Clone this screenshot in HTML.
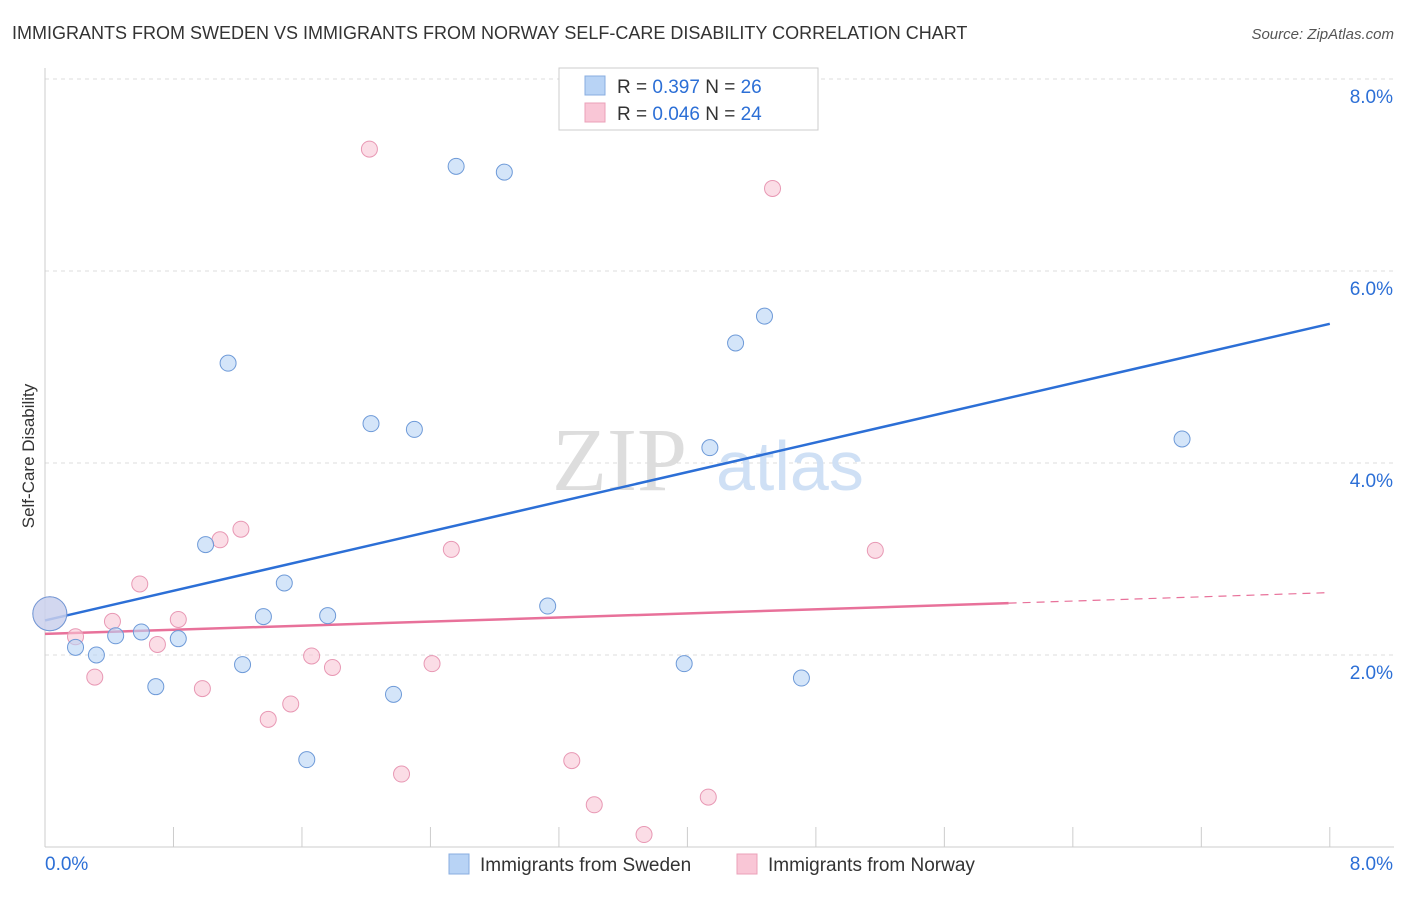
<!DOCTYPE html>
<html><head><meta charset="utf-8"><style>
body{margin:0;background:#fff;font-family:"Liberation Sans",sans-serif;}
</style></head><body>
<svg id="chart" width="1406" height="892" xmlns="http://www.w3.org/2000/svg" font-family="Liberation Sans, sans-serif">
<text x="12" y="39" font-size="18" fill="#333">IMMIGRANTS FROM SWEDEN VS IMMIGRANTS FROM NORWAY SELF-CARE DISABILITY CORRELATION CHART</text>
<text x="1394" y="39" font-size="15" fill="#555" font-style="italic" text-anchor="end">Source: ZipAtlas.com</text>
<text transform="translate(34,456) rotate(-90)" font-size="17" fill="#333" text-anchor="middle">Self-Care Disability</text>
<g id="grid"></g><g id="ticks"></g>
<text x="552" y="490" font-size="90" fill="#ddd" font-family="Liberation Serif, serif">ZIP</text>
<text x="716" y="490" font-size="70" fill="#cfe0f5">atlas</text>
<g id="lines"></g><g id="points"></g>
<g>
<rect x="559" y="68" width="259" height="62" fill="#fff" stroke="#ccc"/>
<rect x="585" y="76" width="20" height="19" fill="#b8d3f5" stroke="#88aee0"/>
<rect x="585" y="103" width="20" height="19" fill="#f9c6d6" stroke="#eba0b8"/>
<text x="617" y="93" font-size="19" fill="#333">R = <tspan fill="#2c6fd6">0.397</tspan>    N = <tspan fill="#2c6fd6">26</tspan></text>
<text x="617" y="120" font-size="19" fill="#333">R = <tspan fill="#2c6fd6">0.046</tspan>    N = <tspan fill="#2c6fd6">24</tspan></text>
</g>
<g>
<rect x="449" y="854" width="20" height="20" fill="#b8d3f5" stroke="#88aee0"/>
<text x="480" y="871" font-size="19" fill="#333">Immigrants from Sweden</text>
<rect x="737" y="854" width="20" height="20" fill="#f9c6d6" stroke="#eba0b8"/>
<text x="768" y="871" font-size="19" fill="#333">Immigrants from Norway</text>
</g>
</svg>
<script>
const yTicks=[2,4,6,8];
const xTickLabels=["0.0%","8.0%"];
const swedenX=[0.03,0.19,0.32,0.44,0.60,0.69,0.83,1.00,1.14,1.23,1.36,1.49,1.63,1.76,2.03,2.17,2.30,2.56,2.86,3.13,3.98,4.14,4.30,4.48,4.71,7.08];
const swedenY=[2.43,2.08,2.00,2.20,2.24,1.67,2.17,3.15,5.04,1.90,2.40,2.75,0.91,2.41,4.41,1.59,4.35,7.09,7.03,2.51,1.91,4.16,5.25,5.53,1.76,4.25];
const norwayX=[0.03,0.19,0.31,0.42,0.59,0.70,0.83,0.98,1.09,1.22,1.39,1.53,1.66,1.79,2.02,2.22,2.41,2.53,3.28,3.42,3.73,4.13,4.53,5.17];
const norwayY=[2.43,2.19,1.77,2.35,2.74,2.11,2.37,1.65,3.20,3.31,1.33,1.49,1.99,1.87,7.27,0.76,1.91,3.10,0.90,0.44,0.13,0.52,6.86,3.09];
const swedenTrend=[2.36,5.45];
const norwayTrend=[2.22,2.54,2.65];
const NS="http://www.w3.org/2000/svg";
const X=v=>45+v*160.6, Y=v=>847-v*96;
function mk(t,a,p){const e=document.createElementNS(NS,t);for(const k in a)e.setAttribute(k,a[k]);document.getElementById(p).appendChild(e);return e;}
yTicks.forEach(t=>{const l=mk('line',{x1:45,x2:1394,y1:Y(t),y2:Y(t),stroke:'#ddd','stroke-dasharray':'4,4'},'grid');


const tx=mk('text',{x:1393,y:Y(t)+24,'font-size':19,fill:'#2c6fd6','text-anchor':'end'},'ticks');tx.textContent=t.toFixed(1)+'%';

});
mk('line',{x1:45,x2:45,y1:68,y2:847,stroke:'#ccc'},'grid');
mk('line',{x1:45,x2:1394,y1:847,y2:847,stroke:'#ccc'},'grid');
for(let i=0;i<=10;i++){const l=mk('line',{x1:X(i*0.8),x2:X(i*0.8),y1:827,y2:847,stroke:'#ccc'},'ticks');

}
[[0,45,'start'],[8,1393,'end']].forEach((a,i)=>{const t=mk('text',{x:a[1],y:870,'font-size':19,fill:'#2c6fd6','text-anchor':a[2]},'ticks');t.textContent=xTickLabels[i];

});
const bl=mk('line',{x1:X(0),y1:Y(swedenTrend[0]),x2:X(8),y2:Y(swedenTrend[1]),stroke:'#2c6fd6','stroke-width':2.5},'lines');


const pl=mk('line',{x1:X(0),y1:Y(norwayTrend[0]),x2:X(6),y2:Y(norwayTrend[1]),stroke:'#e8719a','stroke-width':2.5},'lines');


const pd=mk('line',{x1:X(6),y1:Y(norwayTrend[1]),x2:X(8),y2:Y(norwayTrend[2]),stroke:'#e8719a','stroke-width':1.2,'stroke-dasharray':'8,6'},'lines');


function pts(xs,ys,fill,stroke,name){xs.forEach((x,i)=>{const c=mk('circle',{cx:X(x),cy:Y(ys[i]),r:i==0?17:8,fill:fill,'fill-opacity':0.6,stroke:stroke,'stroke-width':1},'points');

});}
pts(norwayX,norwayY,'#f9c6d6','#e898b4','norway-point');
pts(swedenX,swedenY,'#b8d3f5','#6e9ad8','sweden-point');
</script>
</body></html>
